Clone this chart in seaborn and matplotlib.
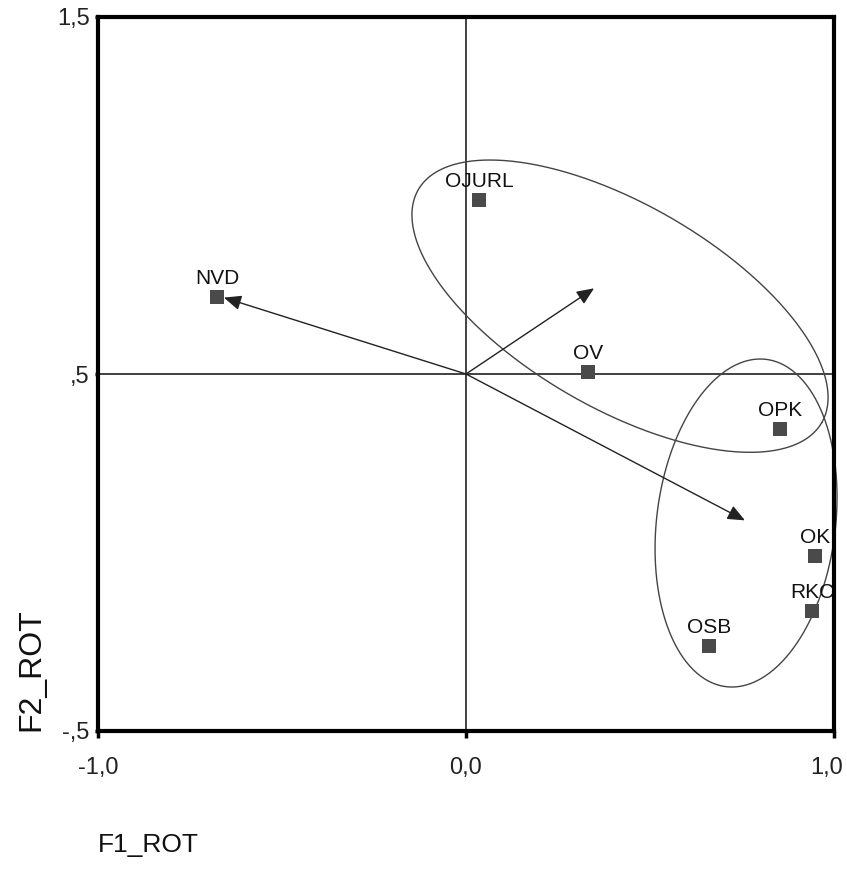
import matplotlib
matplotlib.use("Agg")
import matplotlib.pyplot as plt
from matplotlib.transforms import ScaledTranslation
import numpy as np
import seaborn as sns
import pandas as pd

# ---- data -------------------------------------------------------------
labels = ["OJURL", "NVD", "OV", "OPK", "OK", "RKC", "OSB"]
f1_rot = [0.035, -0.676, 0.332, 0.853, 0.948, 0.941, 0.660]
f2_rot = [0.987, 0.717, 0.505, 0.347, -0.009, -0.165, -0.261]

# vectors from the origin (0, 0.5)
origin = (0.0, 0.5)
arrow_x = [0.348, -0.658, 0.758]
arrow_y = [0.740, 0.714, 0.090]

# cluster ellipses: centre x, centre y, semi-axes (x units), screen angle (deg, clockwise)
ell_cx = [0.4185, 0.761]
ell_cy = [0.690, 0.0826]
ell_a = [0.633, 0.243]   # semi-axis along rotated horizontal
ell_b = [0.277, 0.448]   # semi-axis along rotated vertical
ell_ang = [30.0, 7.0]

xticks = [-1.0, 0.0, 1.0]
xticklabels = ["-1,0", "0,0", "1,0"]
yticks = [-0.5, 0.5, 1.5]
yticklabels = ["-,5", ",5", "1,5"]

df = pd.DataFrame({"label": labels, "F1_ROT": f1_rot, "F2_ROT": f2_rot})

# ---- style ------------------------------------------------------------
sns.set_theme(style="white")
plt.rcParams["font.family"] = ["Liberation Sans", "DejaVu Sans"]

W, H = 847, 869
fig = plt.figure(figsize=(W / 100, H / 100), dpi=100)
L, R, T, B = 98, 834, 17, 731
ax = fig.add_axes([L / W, 1 - B / H, (R - L) / W, (B - T) / H])

ax.set_xlim(-1.0, 1.0)
ax.set_ylim(-0.5, 1.5)

# pixel-per-unit ratio (y relative to x) so ellipses keep their screen shape
ratio = ((B - T) / 2.0) / ((R - L) / 2.0)

# reference lines
ax.axvline(0.0, color="#333333", lw=1.3, zorder=1)
ax.axhline(0.5, color="#333333", lw=1.3, zorder=1)

# ellipses (screen-isotropic shape)
t = np.linspace(0, 2 * np.pi, 400)
for cx, cy, a, b, ang in zip(ell_cx, ell_cy, ell_a, ell_b, ell_ang):
    th = np.deg2rad(ang)
    dx = a * np.cos(t) * np.cos(th) - b * np.sin(t) * np.sin(th)
    dy_screen_down = a * np.cos(t) * np.sin(th) + b * np.sin(t) * np.cos(th)
    ax.plot(cx + dx, cy - dy_screen_down / ratio, color="#444444", lw=1.0,
            zorder=2, clip_on=False)

# arrows
for ex, ey in zip(arrow_x, arrow_y):
    ax.annotate("", xy=(ex, ey), xytext=origin,
                arrowprops=dict(arrowstyle="-|>,head_length=0.7,head_width=0.3",
                                color="#222222", lw=1.0, mutation_scale=15,
                                shrinkA=0, shrinkB=0),
                zorder=3)

# points
sns.scatterplot(data=df, x="F1_ROT", y="F2_ROT", marker="s", s=95,
                color="#4a4a4a", edgecolor="#4a4a4a", linewidth=0,
                ax=ax, zorder=4, legend=False)

for lab, x, y in zip(labels, f1_rot, f2_rot):
    ax.annotate(lab, (x, y), xytext=(0, 6.5), textcoords="offset points",
                ha="center", va="bottom", fontsize=15, color="#111111",
                zorder=5)

# spines / ticks
for sp in ax.spines.values():
    sp.set_linewidth(3)
    sp.set_color("black")
    sp.set_zorder(6)

ax.set_xticks(xticks)
ax.set_xticklabels(xticklabels, fontsize=17)
ax.set_yticks(yticks)
ax.set_yticklabels(yticklabels, fontsize=17)
ax.tick_params(axis="x", direction="out", length=5, width=2.5, pad=14,
               bottom=True, colors="black", labelcolor="#222222")
ax.tick_params(axis="y", direction="out", length=2, width=2.5, pad=4,
               left=True, colors="black", labelcolor="#222222")

# last x tick label sits slightly left so it stays inside the figure
last = ax.get_xticklabels()[-1]
last.set_horizontalalignment("right")
last.set_transform(last.get_transform() + ScaledTranslation(9 / 100, 0, fig.dpi_scale_trans))

ax.set_xlabel("F1_ROT", fontsize=19, loc="left", color="#111111")
ax.xaxis.set_label_coords(0.0, -0.143)
ax.set_ylabel("F2_ROT", fontsize=23, loc="bottom", color="#111111")
ax.yaxis.set_label_coords(-0.07, 0.0)

fig.savefig("out.png", dpi=100, facecolor="white")
